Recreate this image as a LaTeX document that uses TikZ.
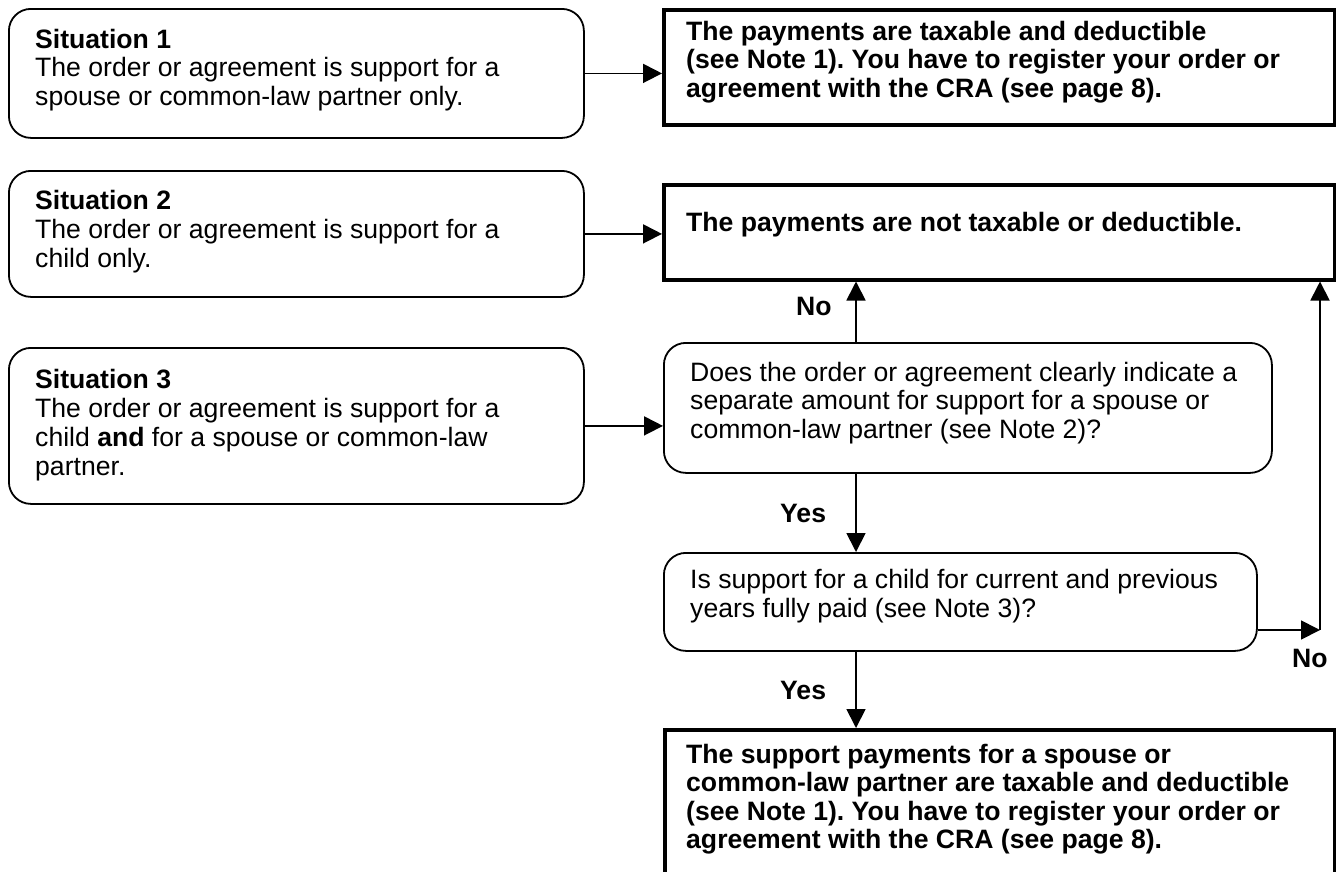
\documentclass[tikz,border=0pt]{standalone}
\usepackage{fontspec}
\setmainfont{Liberation Sans}
\usetikzlibrary{arrows.meta}
\frenchspacing
\newcommand{\stack}[2]{\vtop{\baselineskip=#1\relax #2}}
\begin{document}
\begin{tikzpicture}[x=1pt,y=1pt,
  rbox/.style={draw, line width=1.8pt, rounded corners=22pt, inner sep=0pt, anchor=north west},
  tbox/.style={draw, line width=3.5pt, inner sep=0pt, anchor=north west},
  txt/.style={anchor=base west, inner sep=0pt, font=\fontsize{26.6}{29}\selectfont},
  lbl/.style={anchor=base west, inner sep=0pt, font=\fontsize{26.6}{29}\selectfont\bfseries},
  arr/.style={line width=1.8pt, -{Triangle[length=19pt,width=19pt]}}]
\clip (0,0) rectangle (1336,-871);
% boxes
\node[rbox, minimum width=575pt, minimum height=129pt] (s1) at (8,-8) {};
\node[rbox, minimum width=575pt, minimum height=126pt] (s2) at (8,-170) {};
\node[rbox, minimum width=575pt, minimum height=156pt] (s3) at (8,-347) {};
\node[tbox, minimum width=671pt, minimum height=115pt] (r1) at (662,-8) {};
\node[tbox, minimum width=671pt, minimum height=95pt] (r2) at (662,-183) {};
\node[rbox, minimum width=608pt, minimum height=130pt] (q1) at (663,-342) {};
\node[rbox, minimum width=593pt, minimum height=98pt] (q2) at (663,-552) {};
\node[tbox, minimum width=670pt, minimum height=200pt] (r3) at (663,-728) {};
% texts
\node[txt] (ts1) at (35,-48) {\stack{28.5pt}{\hbox{\bfseries Situation 1}\hbox{The order or agreement is support for a}\hbox{spouse or common-law partner only.}}};
\node[txt] (ts2) at (35,-209) {\stack{29pt}{\hbox{\bfseries Situation 2}\hbox{The order or agreement is support for a}\hbox{child only.}}};
\node[txt] (ts3) at (35,-388) {\stack{29.3pt}{\hbox{\bfseries Situation 3}\hbox{The order or agreement is support for a}\hbox{child \textbf{and} for a spouse or common-law}\hbox{partner.}}};
\node[txt] (tr1) at (686,-40) {\bfseries\stack{28.8pt}{\hbox{The payments are taxable and deductible}\hbox{(see Note 1). You have to register your order or}\hbox{agreement with the CRA (see page 8).}}};
\node[txt] (tr2) at (686,-231) {\bfseries The payments are not taxable or deductible.};
\node[txt] (tq1) at (690,-381) {\stack{28.5pt}{\hbox{Does the order or agreement clearly indicate a}\hbox{separate amount for support for a spouse or}\hbox{common-law partner (see Note 2)?}}};
\node[txt] (tq2) at (690,-588) {\stack{29pt}{\hbox{Is support for a child for current and previous}\hbox{years fully paid (see Note 3)?}}};
\node[txt] (tr3) at (686,-763) {\bfseries\stack{28.5pt}{\hbox{The support payments for a spouse or}\hbox{common-law partner are taxable and deductible}\hbox{(see Note 1). You have to register your order or}\hbox{agreement with the CRA (see page 8).}}};
% labels
\node[lbl] (no1) at (796,-315) {No};
\node[lbl] (yes1) at (780,-522) {Yes};
\node[lbl] (no2) at (1292,-667) {No};
\node[lbl] (yes2) at (780,-699) {Yes};
% connectors
\coordinate (ax) at (856,0);
\coordinate (ny) at (0,-630);
\coordinate (cr) at (1320,-630);
\draw[arr] (s1.east) -- (s1.east -| r1.west);
\draw[arr] (s2.east) -- (s2.east -| r2.west);
\draw[arr] (s3.east) -- (s3.east -| q1.west);
\draw[arr] (q1.north -| ax) -- (r2.south -| ax);
\draw[arr] (q1.south -| ax) -- (q2.north -| ax);
\draw[arr] (q2.south -| ax) -- (r3.north -| ax);
\draw[arr] (q2.east |- ny) -- (cr);
\draw[arr] (cr) -- (r2.south -| cr);
\end{tikzpicture}
\end{document}
